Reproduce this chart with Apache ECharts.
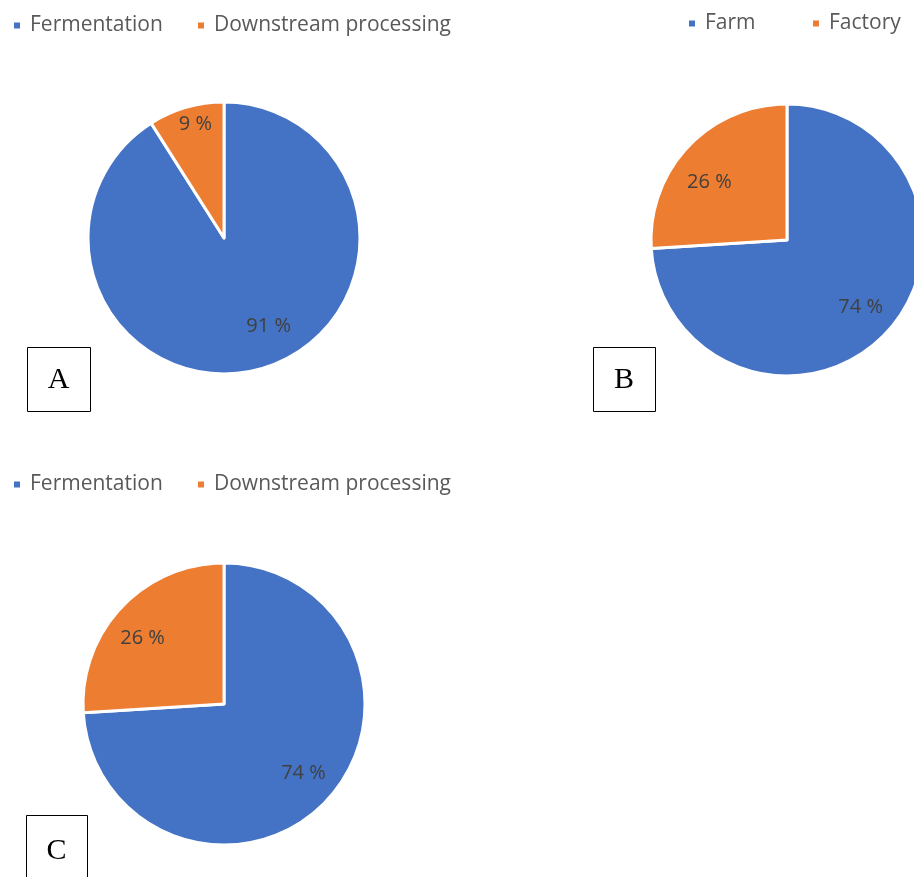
<!DOCTYPE html>
<html>
<head>
<meta charset="utf-8">
<script src="https://cdn.jsdelivr.net/npm/echarts@6/dist/echarts.min.js"></script>
<style>
  html, body { margin: 0; padding: 0; background: #ffffff; }
  #chart { width: 914px; height: 877px; }
</style>
</head>
<body>
<div id="chart"></div>
<script>
// Panel A: share of the process by stage
const stagesA = ['Fermentation', 'Downstream processing'];
const valuesA = [91, 9];

// Panel B: share by site
const sitesB = ['Farm', 'Factory'];
const valuesB = [74, 26];

// Panel C: share of the process by stage
const stagesC = ['Fermentation', 'Downstream processing'];
const valuesC = [74, 26];

const BLUE = '#4472C4';
const ORANGE = '#ED7D31';
const FONT = '"Open Sans", "Noto Sans", sans-serif';

function slices(names, values) {
  return names.map((n, i) => ({
    name: n,
    value: values[i],
    itemStyle: { color: i === 0 ? BLUE : ORANGE }
  }));
}

// Filled pie with white separators
function pieSeries(names, values, center, radius) {
  return {
    type: 'pie',
    center: center,
    radius: [0, radius],
    startAngle: 90,
    clockwise: true,
    silent: true,
    animation: false,
    itemStyle: { borderColor: '#ffffff', borderWidth: 3 },
    label: { show: false },
    labelLine: { show: false },
    data: slices(names, values)
  };
}

// Transparent ring on top that carries the value labels further out from the centre;
// nudges holds a small pixel shift for each label
function labelSeries(names, values, center, inner, outer, nudges) {
  return {
    type: 'pie',
    center: center,
    radius: [inner, outer],
    startAngle: 90,
    clockwise: true,
    silent: true,
    animation: false,
    legendHoverLink: false,
    itemStyle: { color: 'rgba(0,0,0,0)', borderWidth: 0 },
    label: {
      show: true,
      position: 'inside',
      formatter: '{c} %',
      color: '#404040',
      fontSize: 20,
      fontFamily: FONT
    },
    labelLine: { show: false },
    data: names.map((n, i) => ({
      name: n + ' ',
      value: values[i],
      label: { offset: nudges[i] }
    }))
  };
}

function legendItem(name, left, top, color) {
  return {
    data: [{ name: name, itemStyle: { color: color } }],
    left: left,
    top: top,
    icon: 'rect',
    itemWidth: 8,
    itemHeight: 8,
    selectedMode: false,
    padding: 0,
    textStyle: { color: '#595959', fontSize: 21, fontFamily: FONT, padding: [0, 0, 0, 4] }
  };
}

function letterBox(x, y, w, h, letter) {
  return [
    {
      type: 'rect',
      shape: { x: x + 0.5, y: y + 0.5, width: w, height: h },
      style: { fill: '#ffffff', stroke: '#000000', lineWidth: 1 }
    },
    {
      type: 'text',
      x: x + w / 2,
      y: y + h / 2 + 1,
      style: {
        text: letter,
        fill: '#000000',
        font: '30px "Liberation Serif", "DejaVu Serif", serif',
        align: 'center',
        verticalAlign: 'middle'
      }
    }
  ];
}

const chart = echarts.init(document.getElementById('chart'), null, { renderer: 'canvas' });

chart.setOption({
  backgroundColor: '#ffffff',
  animation: false,
  legend: [
    legendItem(stagesA[0], 12, 15, BLUE),
    legendItem(stagesA[1], 196, 15, ORANGE),
    legendItem(sitesB[0], 687, 13, BLUE),
    legendItem(sitesB[1], 811, 13, ORANGE),
    legendItem(stagesC[0], 12, 474, BLUE),
    legendItem(stagesC[1], 196, 474, ORANGE)
  ],
  series: [
    pieSeries(stagesA, valuesA, [224, 238], 136),
    pieSeries(sitesB, valuesB, [787, 240], 136),
    pieSeries(stagesC, valuesC, [224, 704], 141),
    labelSeries(stagesA, valuesA, [224, 238], 56, 136, [[17, -7], [-1, -19]]),
    labelSeries(sitesB, valuesB, [787, 240], 60, 136, [[0, -2], [-4, 11]]),
    labelSeries(stagesC, valuesC, [224, 704], 70, 142, [[0, -5], [-2, 9]])
  ],
  graphic: [
    ...letterBox(27, 347, 63, 64, 'A'),
    ...letterBox(593, 347, 62, 64, 'B'),
    ...letterBox(26, 815, 61, 70, 'C')
  ]
});
</script>
</body>
</html>
